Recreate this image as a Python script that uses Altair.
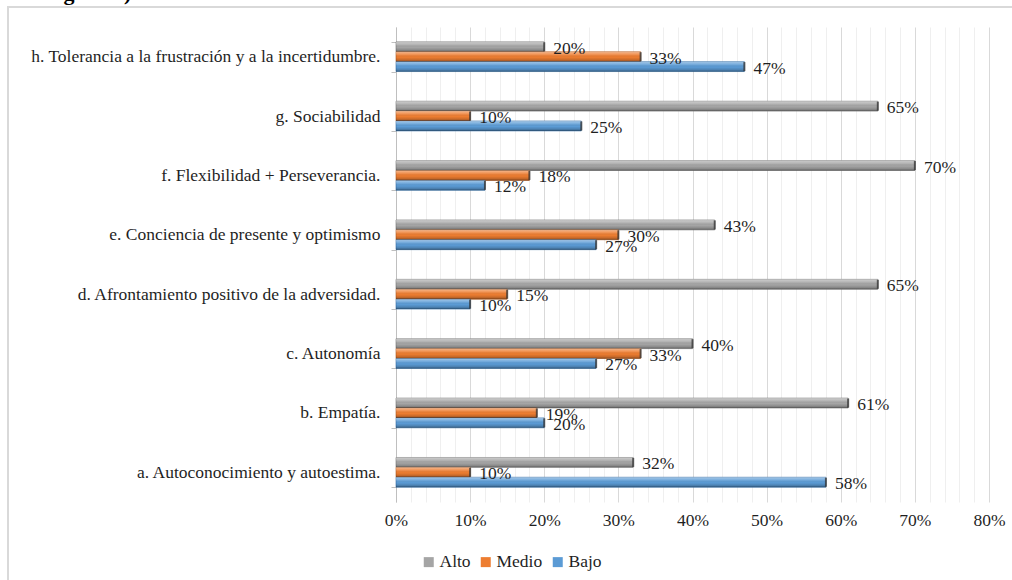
import altair as alt
import pandas as pd

# Dimensions of resilience, listed top to bottom as drawn
categories = [
    "h. Tolerancia a la frustración y a la incertidumbre.",
    "g. Sociabilidad",
    "f. Flexibilidad + Perseverancia.",
    "e. Conciencia de presente y optimismo",
    "d. Afrontamiento positivo de la adversidad.",
    "c. Autonomía",
    "b. Empatía.",
    "a. Autoconocimiento y autoestima.",
]
levels = ["Alto", "Medio", "Bajo"]
alto = [20, 65, 70, 43, 65, 40, 61, 32]
medio = [33, 10, 18, 30, 15, 33, 19, 10]
bajo = [47, 25, 12, 27, 10, 27, 20, 58]

fill_colors = ["#a5a5a5", "#ed7d31", "#5b9bd5"]
edge_colors = ["#6f6f6f", "#a9551c", "#2f6aa2"]
serif = "Liberation Serif"
text_color = "#1f1f1f"
font_size = 17.5

rows = []
for i, cat in enumerate(categories):
    for lvl, vals in zip(levels, [alto, medio, bajo]):
        rows.append({"Dimension": cat, "Nivel": lvl, "Valor": vals[i], "Etiqueta": f"{vals[i]}%"})
df = pd.DataFrame(rows)

base = alt.Chart(df).encode(
    y=alt.Y(
        "Dimension:N",
        sort=categories,
        scale=alt.Scale(paddingInner=0.5, paddingOuter=0.25),
        axis=alt.Axis(
            title=None,
            domainColor="#bfbfbf",
            tickColor="#bfbfbf",
            tickBand="extent",
            tickSize=5,
            labelPadding=11,
            labelFont=serif,
            labelFontSize=font_size,
            labelColor=text_color,
            labelLimit=500,
        ),
    ),
    yOffset=alt.YOffset(
        "Nivel:N", sort=levels, scale=alt.Scale(domain=levels, paddingInner=0, paddingOuter=0)
    ),
    x=alt.X(
        "Valor:Q",
        scale=alt.Scale(domain=[0, 80], nice=False, zero=True),
        axis=alt.Axis(
            title=None,
            values=list(range(0, 82, 2)),
            labelExpr="datum.value % 10 === 0 ? datum.value + '%' : ''",
            grid=True,
            gridColor={"condition": {"test": "datum.value % 10 === 0", "value": "#d9d9d9"}, "value": "#efefef"},
            domain=False,
            ticks=False,
            labelPadding=9,
            labelFont=serif,
            labelFontSize=font_size,
            labelColor=text_color,
            labelFlush=False,
        ),
    ),
)

bars = base.mark_bar(strokeWidth=0.6).encode(
    color=alt.Color(
        "Nivel:N",
        scale=alt.Scale(domain=levels, range=fill_colors),
        legend=alt.Legend(
            title=None,
            orient="none",
            legendX=24,
            legendY=526,
            direction="horizontal",
            symbolType="square",
            symbolSize=100,
            symbolStrokeWidth=0,
            labelFont=serif,
            labelFontSize=font_size,
            labelColor=text_color,
            labelOffset=2,
            columnPadding=6,
            padding=0,
        ),
    ),
    stroke=alt.Stroke("Nivel:N", scale=alt.Scale(domain=levels, range=edge_colors), legend=None),
)

# Cylindrical shading laid over each bar
shade = base.mark_bar(
    fill=alt.Gradient(
        gradient="linear",
        x1=0, x2=0, y1=0, y2=1,
        stops=[
            alt.GradientStop(offset=0, color="rgba(255,255,255,0.45)"),
            alt.GradientStop(offset=0.3, color="rgba(255,255,255,0.15)"),
            alt.GradientStop(offset=0.55, color="rgba(0,0,0,0)"),
            alt.GradientStop(offset=0.8, color="rgba(0,0,0,0.15)"),
            alt.GradientStop(offset=1, color="rgba(0,0,0,0.4)"),
        ],
    )
)

caps = base.mark_tick(orient="vertical", thickness=2, size=9, opacity=0.75).encode(
    color=alt.value("#333333")
)

labels = base.mark_text(
    align="left", baseline="middle", dx=9, dy=2, font=serif, fontSize=font_size, color=text_color
).encode(text="Etiqueta:N")

frame = alt.Chart(alt.Data(values=[{}])).mark_rect(
    fill="transparent", stroke="#d9d9d9", strokeWidth=2
).encode(x=alt.value(-388), x2=alt.value(1200), y=alt.value(-20), y2=alt.value(700))

caption = alt.Chart(alt.Data(values=[{}])).mark_text(
    align="left", baseline="alphabetic", font=serif, fontSize=22, fontWeight="bold", color="#000000"
).encode(x=alt.value(-352), y=alt.value(-27), text=alt.value("Figura 3)"))

chart = (
    alt.layer(frame, caption, bars, shade, caps, labels)
    .properties(
        width=593,
        height=475,
        autosize=alt.AutoSizeParams(type="none"),
        padding={"left": 396, "top": 27, "right": 23, "bottom": 78},
    )
    .configure_view(stroke=None)
)

chart.save("out.html", embed_options={"renderer": "svg", "actions": False})
